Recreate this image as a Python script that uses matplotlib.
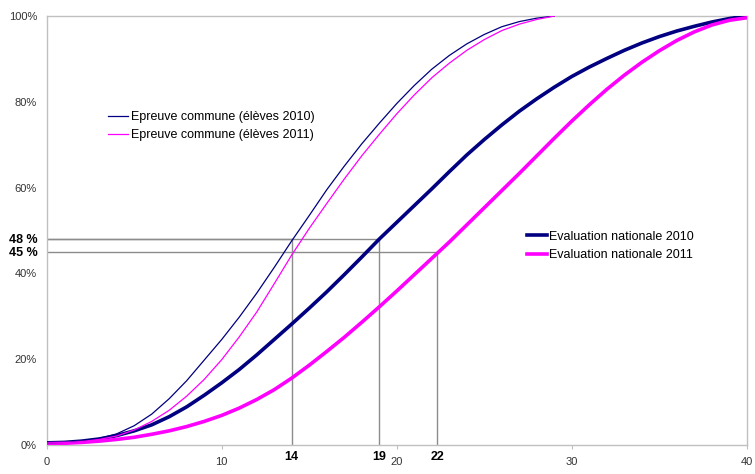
import matplotlib
matplotlib.use("Agg")
import matplotlib.pyplot as plt
import matplotlib.transforms as mtransforms
from matplotlib.ticker import FuncFormatter

plt.rcParams['font.family'] = ['Liberation Sans', 'DejaVu Sans']

# cumulative share of pupils (%) by score
x_commune = list(range(0, 30))
commune_2010 = [0.5, 0.6, 0.9, 1.5, 2.6, 4.5, 7.2, 10.8, 15.0, 19.8,
                24.6, 29.8, 35.4, 41.4, 47.6, 53.5, 59.5, 65.0, 70.2, 75.0,
                79.6, 83.8, 87.6, 90.8, 93.5, 95.7, 97.5, 98.7, 99.5, 100.0]
commune_2011 = [0.5, 0.55, 0.8, 1.3, 2.1, 3.5, 5.5, 8.1, 11.4, 15.3,
                19.9, 25.2, 31.0, 37.6, 44.3, 50.5, 56.3, 62.0, 67.4, 72.4,
                77.2, 81.6, 85.6, 89.0, 92.0, 94.5, 96.6, 98.1, 99.2, 100.0]

x_nationale = list(range(0, 41))
nationale_2010 = [0.5, 0.6, 0.9, 1.4, 2.2, 3.3, 4.7, 6.6, 8.9, 11.6,
                  14.5, 17.6, 21.0, 24.6, 28.2, 31.9, 35.7, 39.7, 43.8, 48.0,
                  51.9, 55.8, 59.7, 63.7, 67.6, 71.2, 74.6, 77.8, 80.7, 83.4,
                  85.9, 88.1, 90.1, 92.0, 93.7, 95.2, 96.5, 97.6, 98.6, 99.4, 100.0]
nationale_2011 = [0.3, 0.4, 0.6, 0.9, 1.3, 1.8, 2.5, 3.3, 4.3, 5.5,
                  6.9, 8.6, 10.6, 12.9, 15.6, 18.6, 21.8, 25.1, 28.6, 32.2,
                  35.9, 39.7, 43.5, 47.3, 51.3, 55.3, 59.3, 63.3, 67.4, 71.5,
                  75.5, 79.3, 82.9, 86.2, 89.2, 91.9, 94.3, 96.3, 97.9, 99.0, 99.6]

# reference markers: (score, percent, score label, percent label)
ref_lines = [(14, 48, "14", "48 %"), (19, 48, "19", None), (22.3, 45, "22", "45 %")]

NAVY = "#000080"
MAGENTA = "#FF00FF"
GRID = "#8C8C8C"
FRAME = "#C0C0C0"

fig = plt.figure(figsize=(7.55, 4.74), dpi=100)
ax = fig.add_axes([0.0619, 0.0612, 0.9272, 0.905])

# reference lines
for xv, yv, xl, yl in ref_lines:
    ax.plot([xv, xv], [0, yv], color=GRID, lw=1, zorder=1)
    ax.plot([0, xv], [yv, yv], color=GRID, lw=1, zorder=1)

l3, = ax.plot(x_nationale, nationale_2010, color=NAVY, lw=2.6, zorder=3,
              label="Evaluation nationale 2010")
l4, = ax.plot(x_nationale, nationale_2011, color=MAGENTA, lw=2.6, zorder=3,
              label="Evaluation nationale 2011")
l1, = ax.plot(x_commune, commune_2010, color=NAVY, lw=0.9, zorder=4,
              label="Epreuve commune (élèves 2010)")
l2, = ax.plot(x_commune, commune_2011, color=MAGENTA, lw=0.9, zorder=4,
              label="Epreuve commune (élèves 2011)")

ax.set_xlim(0, 40)
ax.set_ylim(0, 100)
ax.set_xticks([0, 10, 20, 30, 40])
ax.set_yticks([0, 20, 40, 60, 80, 100])
ax.yaxis.set_major_formatter(FuncFormatter(lambda v, p: f"{v:.0f}%"))
ax.tick_params(axis='x', length=3, width=0.8, color=FRAME, pad=6,
               labelsize=8, labelcolor="#333333")
ax.tick_params(axis='y', length=0, pad=7, labelsize=8, labelcolor="#333333")
for s in ax.spines.values():
    s.set_color(FRAME)
    s.set_linewidth(1)

# bold annotations
xtrans = mtransforms.blended_transform_factory(ax.transData, ax.transAxes)
for xv, yv, xl, yl in ref_lines:
    ax.text(xv, -0.027, xl, transform=xtrans, ha='center', va='center',
            fontsize=9, fontweight='bold', clip_on=False)
    if yl:
        ax.text(-0.5, yv - 0.3, yl, ha='right', va='center', fontsize=9,
                fontweight='bold', clip_on=False)

leg1 = ax.legend(handles=[l1, l2], loc='center left', bbox_to_anchor=(0.0876, 0.743),
                 frameon=False, fontsize=9, handlelength=1.6, handletextpad=0.25,
                 labelspacing=0.5, borderpad=0, borderaxespad=0)
ax.add_artist(leg1)
ax.legend(handles=[l3, l4], loc='center left', bbox_to_anchor=(0.686, 0.464),
          frameon=False, fontsize=9, handlelength=1.6, handletextpad=0.15,
          labelspacing=0.5, borderpad=0, borderaxespad=0)

plt.savefig("out.png", dpi=100)
plt.close()
